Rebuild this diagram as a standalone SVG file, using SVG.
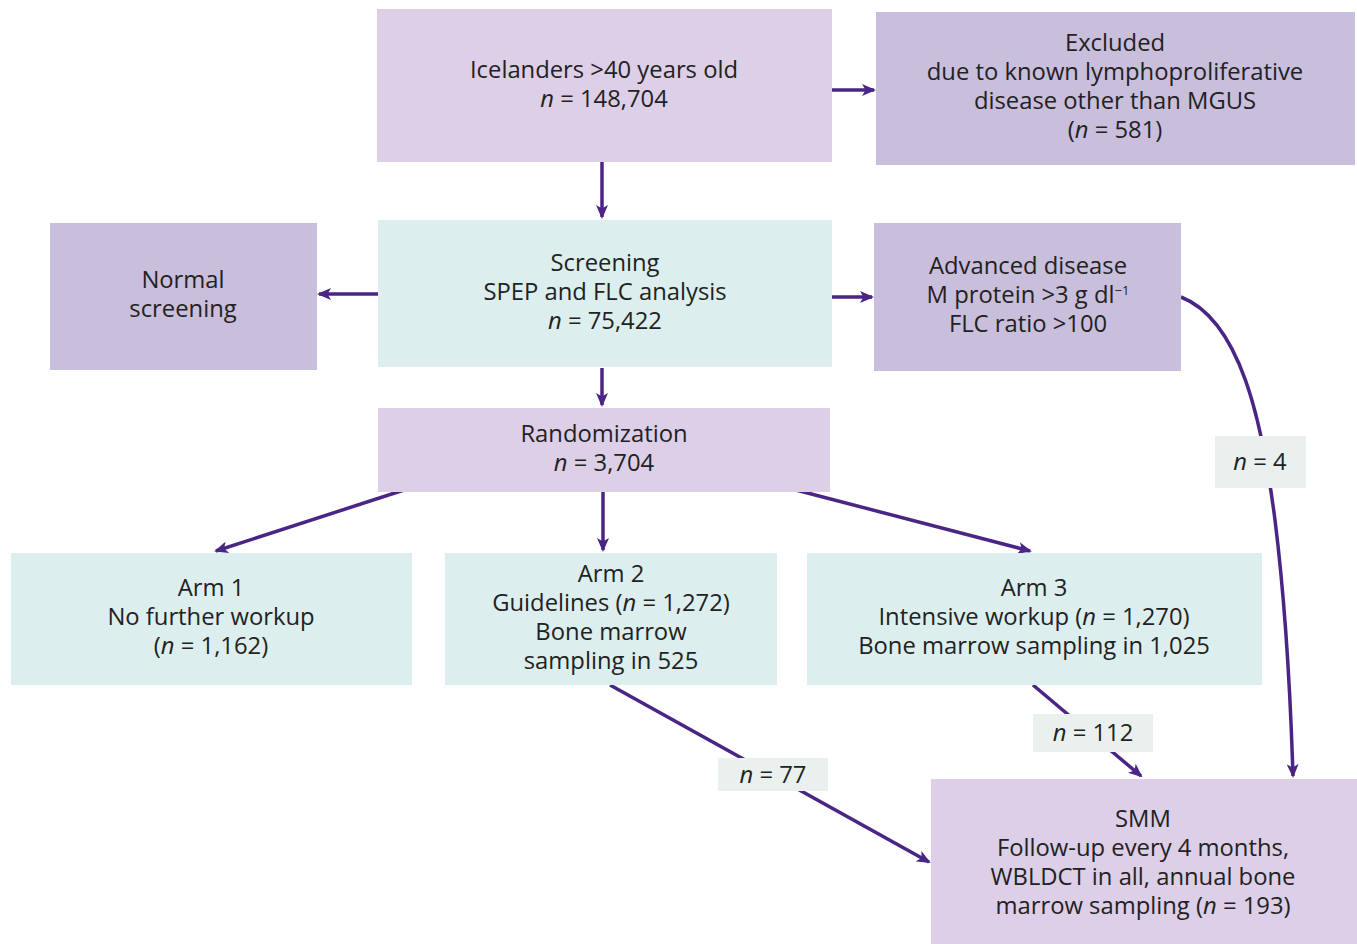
<svg xmlns="http://www.w3.org/2000/svg" width="1357" height="944" viewBox="0 0 1357 944">
<defs>
<marker id="ah" markerWidth="14" markerHeight="12" refX="12" refY="6" orient="auto" markerUnits="userSpaceOnUse">
<path d="M0,0 L14,6 L0,12 L3.5,6 Z" fill="#4a2585"/>
</marker>
<style>
.lp{fill:#dccfe7}
.dp{fill:#c9bedb}
.tl{fill:#ddeeee}
.lb{fill:#e9f0ee}
text{font-family:"Open Sans","Liberation Sans",sans-serif;font-size:23.8px;fill:#222;text-anchor:middle}
.c{fill:none;stroke:#4a2585;stroke-width:3.5;marker-end:url(#ah)}
</style>
</defs>
<rect width="1357" height="944" fill="#fff"/>
<g id="connectors">
<line class="c" x1="832" y1="90" x2="874" y2="90"/>
<line class="c" x1="602" y1="162" x2="602" y2="217"/>
<line class="c" x1="378" y1="294" x2="319" y2="294"/>
<line class="c" x1="832" y1="297" x2="872" y2="297"/>
<line class="c" x1="602" y1="368" x2="602" y2="405"/>
<line class="c" x1="404" y1="490" x2="216" y2="551"/>
<line class="c" x1="603" y1="492" x2="603" y2="550"/>
<line class="c" x1="796" y1="490" x2="1030" y2="551"/>
<line class="c" x1="610" y1="685" x2="929" y2="862"/>
<line class="c" x1="1033" y1="685" x2="1141" y2="776"/>
<path class="c" d="M1181,297 C1240,320 1262,420 1275,520 C1285,600 1290,680 1293,776"/>
</g>
<g id="n_icelanders">
<rect class="lp" x="377" y="9" width="455" height="153"/>
<text x="604" y="78">Icelanders &gt;40 years old</text>
<text x="604" y="107"><tspan font-style="italic">n</tspan> = 148,704</text>
</g>
<g id="n_excluded">
<rect class="dp" x="876" y="12" width="479" height="153"/>
<text x="1115" y="51">Excluded</text>
<text x="1115" y="80">due to known lymphoproliferative</text>
<text x="1115" y="109">disease other than MGUS</text>
<text x="1115" y="138">(<tspan font-style="italic">n</tspan> = 581)</text>
</g>
<g id="n_normal">
<rect class="dp" x="50" y="223" width="267" height="147"/>
<text x="183" y="288">Normal</text>
<text x="183" y="317">screening</text>
</g>
<g id="n_screening">
<rect class="tl" x="378" y="220" width="454" height="147"/>
<text x="605" y="271">Screening</text>
<text x="605" y="300">SPEP and FLC analysis</text>
<text x="605" y="329"><tspan font-style="italic">n</tspan> = 75,422</text>
</g>
<g id="n_advanced">
<rect class="dp" x="874" y="223" width="307" height="148"/>
<text x="1028" y="274">Advanced disease</text>
<text x="1028" y="303">M protein &gt;3 g dl<tspan font-size="13" dy="-8">−1</tspan></text>
<text x="1028" y="332">FLC ratio &gt;100</text>
</g>
<g id="n_random">
<rect class="lp" x="378" y="408" width="452" height="84"/>
<text x="604" y="442">Randomization</text>
<text x="604" y="471"><tspan font-style="italic">n</tspan> = 3,704</text>
</g>
<g id="n_arm1">
<rect class="tl" x="11" y="553" width="401" height="132"/>
<text x="211" y="596">Arm 1</text>
<text x="211" y="625">No further workup</text>
<text x="211" y="654">(<tspan font-style="italic">n</tspan> = 1,162)</text>
</g>
<g id="n_arm2">
<rect class="tl" x="445" y="553" width="332" height="132"/>
<text x="611" y="582">Arm 2</text>
<text x="611" y="611">Guidelines (<tspan font-style="italic">n</tspan> = 1,272)</text>
<text x="611" y="640">Bone marrow</text>
<text x="611" y="669">sampling in 525</text>
</g>
<g id="n_arm3">
<rect class="tl" x="807" y="553" width="455" height="132"/>
<text x="1034" y="596">Arm 3</text>
<text x="1034" y="625">Intensive workup (<tspan font-style="italic">n</tspan> = 1,270)</text>
<text x="1034" y="654">Bone marrow sampling in 1,025</text>
</g>
<g id="n_smm">
<rect class="lp" x="931" y="779" width="426" height="165"/>
<text x="1143" y="827">SMM</text>
<text x="1143" y="856">Follow-up every 4 months,</text>
<text x="1143" y="885">WBLDCT in all, annual bone</text>
<text x="1143" y="914">marrow sampling (<tspan font-style="italic">n</tspan> = 193)</text>
</g>
<g id="l_n4">
<rect class="lb" x="1215" y="436" width="91" height="52"/>
<text x="1260" y="470"><tspan font-style="italic">n</tspan> = 4</text>
</g>
<g id="l_n112">
<rect class="lb" x="1033" y="714" width="120" height="38"/>
<text x="1093" y="741"><tspan font-style="italic">n</tspan> = 112</text>
</g>
<g id="l_n77">
<rect class="lb" x="718" y="758" width="110" height="33"/>
<text x="773" y="783"><tspan font-style="italic">n</tspan> = 77</text>
</g>
</svg>
